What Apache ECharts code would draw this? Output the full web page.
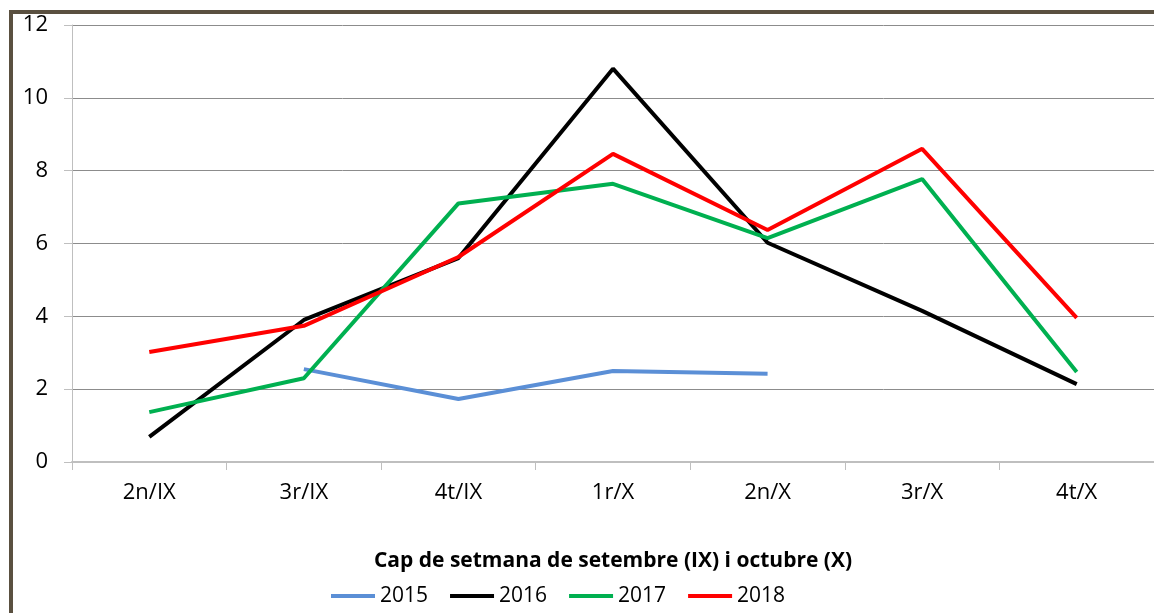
<!DOCTYPE html>
<html>
<head>
<meta charset="utf-8">
<script src="https://cdn.jsdelivr.net/npm/echarts@6/dist/echarts.min.js"></script>
<style>
  html, body { margin: 0; padding: 0; background: #fff; }
  #chart { width: 1154px; height: 613px; }
</style>
</head>
<body>
<div id="chart"></div>
<script>
var weeks = ['2n/IX', '3r/IX', '4t/IX', '1r/X', '2n/X', '3r/X', '4t/X'];
var y2015 = [null, 2.55, 1.73, 2.5, 2.42, null, null];
var y2016 = [0.69, 3.9, 5.6, 10.8, 6.02, 4.15, 2.14];
var y2017 = [1.37, 2.3, 7.1, 7.64, 6.15, 7.77, 2.47];
var y2018 = [3.02, 3.74, 5.63, 8.46, 6.37, 8.6, 3.96];
var yTicks = [0, 2, 4, 6, 8, 10, 12];

var font = '"Open Sans", Lato, sans-serif';

function lineSeries(name, data, color) {
    return {
        name: name,
        type: 'line',
        data: data,
        symbol: 'none',
        connectNulls: false,
        lineStyle: { color: color, width: 4 },
        itemStyle: { color: color }
    };
}

var dom = document.getElementById('chart');
var myChart = echarts.init(dom);

var option = {
    animation: false,
    backgroundColor: '#fff',
    textStyle: { fontFamily: font },
    grid: { left: 72, right: -4, top: 25, bottom: 151, containLabel: false },
    legend: {
        top: 580,
        left: 326,
        itemWidth: 44,
        itemHeight: 4,
        itemGap: 22,
        icon: 'rect',
        textStyle: { fontFamily: font, fontSize: 21, lineHeight: 22, color: '#000' },
        data: ['2015', '2016', '2017', '2018']
    },
    xAxis: {
        type: 'category',
        data: weeks,
        boundaryGap: true,
        name: 'Cap de setmana de setembre (IX) i octubre (X)',
        nameLocation: 'middle',
        nameGap: 89,
        nameTextStyle: { fontFamily: font, fontSize: 21, fontWeight: 'bold', color: '#000' },
        axisLine: { lineStyle: { color: '#bfbfbf', width: 2 } },
        axisTick: { show: true, length: 8, lineStyle: { color: '#bfbfbf', width: 1 } },
        axisLabel: { fontFamily: font, fontSize: 22, color: '#000', margin: 20 }
    },
    yAxis: {
        type: 'value',
        min: yTicks[0],
        max: yTicks[yTicks.length - 1],
        interval: 2,
        axisLine: { show: true, lineStyle: { color: '#bfbfbf', width: 1 } },
        axisTick: { show: true, length: 8, lineStyle: { color: '#bfbfbf' } },
        axisLabel: { fontFamily: font, fontSize: 22, color: '#000', margin: 24 },
        splitLine: { show: true, lineStyle: { color: '#8c8c8c', width: 1 } }
    },
    graphic: [
        { type: 'rect', shape: { x: 9, y: 10, width: 4, height: 613 }, style: { fill: '#5a5040' } },
        { type: 'rect', shape: { x: 9, y: 10, width: 1154, height: 4 }, style: { fill: '#5a5040' } }
    ],
    series: [
        lineSeries('2015', y2015, '#5b8fd6'),
        lineSeries('2016', y2016, '#000000'),
        lineSeries('2017', y2017, '#00b050'),
        lineSeries('2018', y2018, '#ff0000')
    ]
};
myChart.setOption(option);
</script>
</body>
</html>
